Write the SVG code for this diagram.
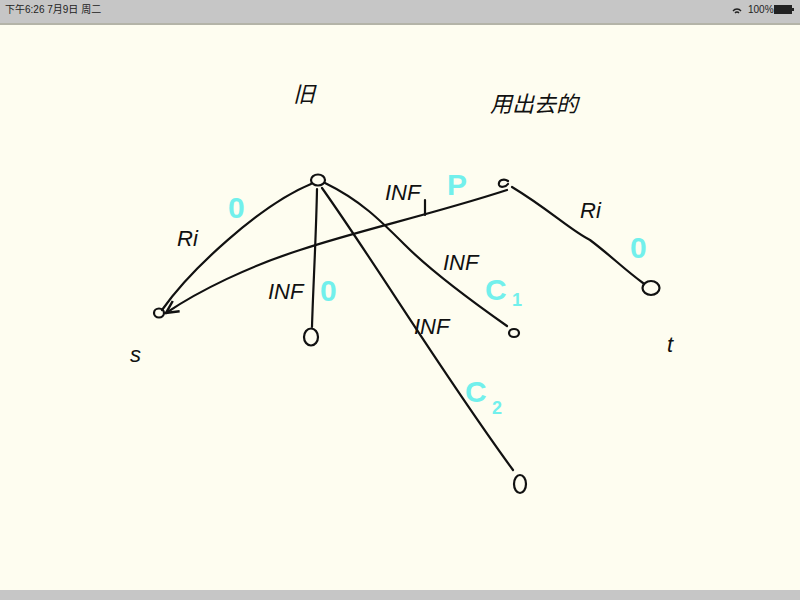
<svg xmlns="http://www.w3.org/2000/svg" width="800" height="600" viewBox="0 0 800 600">
<defs>
<style>
.ink{fill:none;stroke:#111;stroke-width:2.2;stroke-linecap:round;stroke-linejoin:round}
.lbl{font-family:"Liberation Sans","Noto Sans CJK SC",sans-serif;font-size:22px;fill:#111;font-style:italic}
.cy{font-family:"Liberation Sans",sans-serif;font-weight:bold;fill:#72f0ec;font-size:30px}
.sub{font-size:18px}
.sb{font-family:"Liberation Sans","Noto Sans CJK SC",sans-serif;font-size:10px;fill:#222}
</style>
<marker id="arr" viewBox="0 0 10 10" refX="9" refY="5" markerWidth="7" markerHeight="7" orient="auto-start-reverse">
<path d="M1,1 L9,5 L1,9" fill="none" stroke="#111" stroke-width="1.6"/>
</marker>
</defs>
<rect width="800" height="600" fill="#fefdf0"/>
<rect width="800" height="23" fill="#c6c6c6"/>
<rect y="23" width="800" height="2" fill="#b4b4a8"/>
<rect y="590" width="800" height="10" fill="#c6c6c6"/>
<text class="sb" x="5" y="13">下午6:26  7月9日 周二</text>
<text class="sb" x="748" y="13">100%</text>
<path d="M733,11 a5,5 0 0 1 8,0 M735,13 a2.5,2.5 0 0 1 4,0" fill="none" stroke="#222" stroke-width="1.3"/>
<rect x="774" y="5" width="18" height="9" fill="#222"/>
<rect x="792" y="8" width="2" height="3" fill="#222"/>

<text class="lbl" x="293" y="102">旧</text>
<text class="lbl" x="490" y="112">用出去的</text>

<g id="connectors">
<path class="ink" d="M311,184 C260,205 190,270 162,310"/>
<path class="ink" d="M317,189 C316,240 313,290 312,327"/>
<path class="ink" d="M322,188 C380,270 440,370 513,470"/>
<path class="ink" d="M325,183 C360,200 380,220 405,245 C430,270 470,300 507,326"/>
<path class="ink" d="M507,190 C430,215 360,230 300,250 C250,266 200,290 166,313" marker-end="url(#arr)"/>
<path class="ink" d="M425,200 L425,215"/>
<path class="ink" d="M512,187 C550,210 570,230 590,240 C610,255 625,270 643,283"/>
</g>

<g id="top"><ellipse class="ink" cx="318" cy="180" rx="7" ry="5.5"/></g>
<g id="s"><ellipse class="ink" cx="159" cy="313" rx="5" ry="4.5"/><text class="lbl" x="130" y="362">s</text></g>
<g id="mid"><ellipse class="ink" cx="311" cy="337" rx="7" ry="8.5"/></g>
<g id="p"><path class="ink" d="M508,181 C504,178 498,180 499,185 C500,188 506,187 508,184"/></g>
<g id="c1"><ellipse class="ink" cx="514" cy="333" rx="5" ry="4"/></g>
<g id="t"><ellipse class="ink" cx="651" cy="288" rx="8.5" ry="7"/><text class="lbl" x="667" y="352">t</text></g>
<g id="c2"><ellipse class="ink" cx="520" cy="484" rx="6" ry="9"/></g>

<g id="labels">
<text class="lbl" x="177" y="246">Ri</text>
<text class="cy" x="228" y="218">0</text>
<text class="lbl" x="268" y="299">INF</text>
<text class="cy" x="320" y="301">0</text>
<text class="lbl" x="385" y="200">INF</text>
<text class="cy" x="447" y="195">P</text>
<text class="lbl" x="443" y="270">INF</text>
<text class="cy" x="485" y="300">C</text>
<text class="cy sub" x="512" y="306">1</text>
<text class="lbl" x="414" y="334">INF</text>
<text class="cy" x="465" y="402">C</text>
<text class="cy sub" x="492" y="414">2</text>
<text class="lbl" x="580" y="218">Ri</text>
<text class="cy" x="630" y="258">0</text>
</g>
</svg>
